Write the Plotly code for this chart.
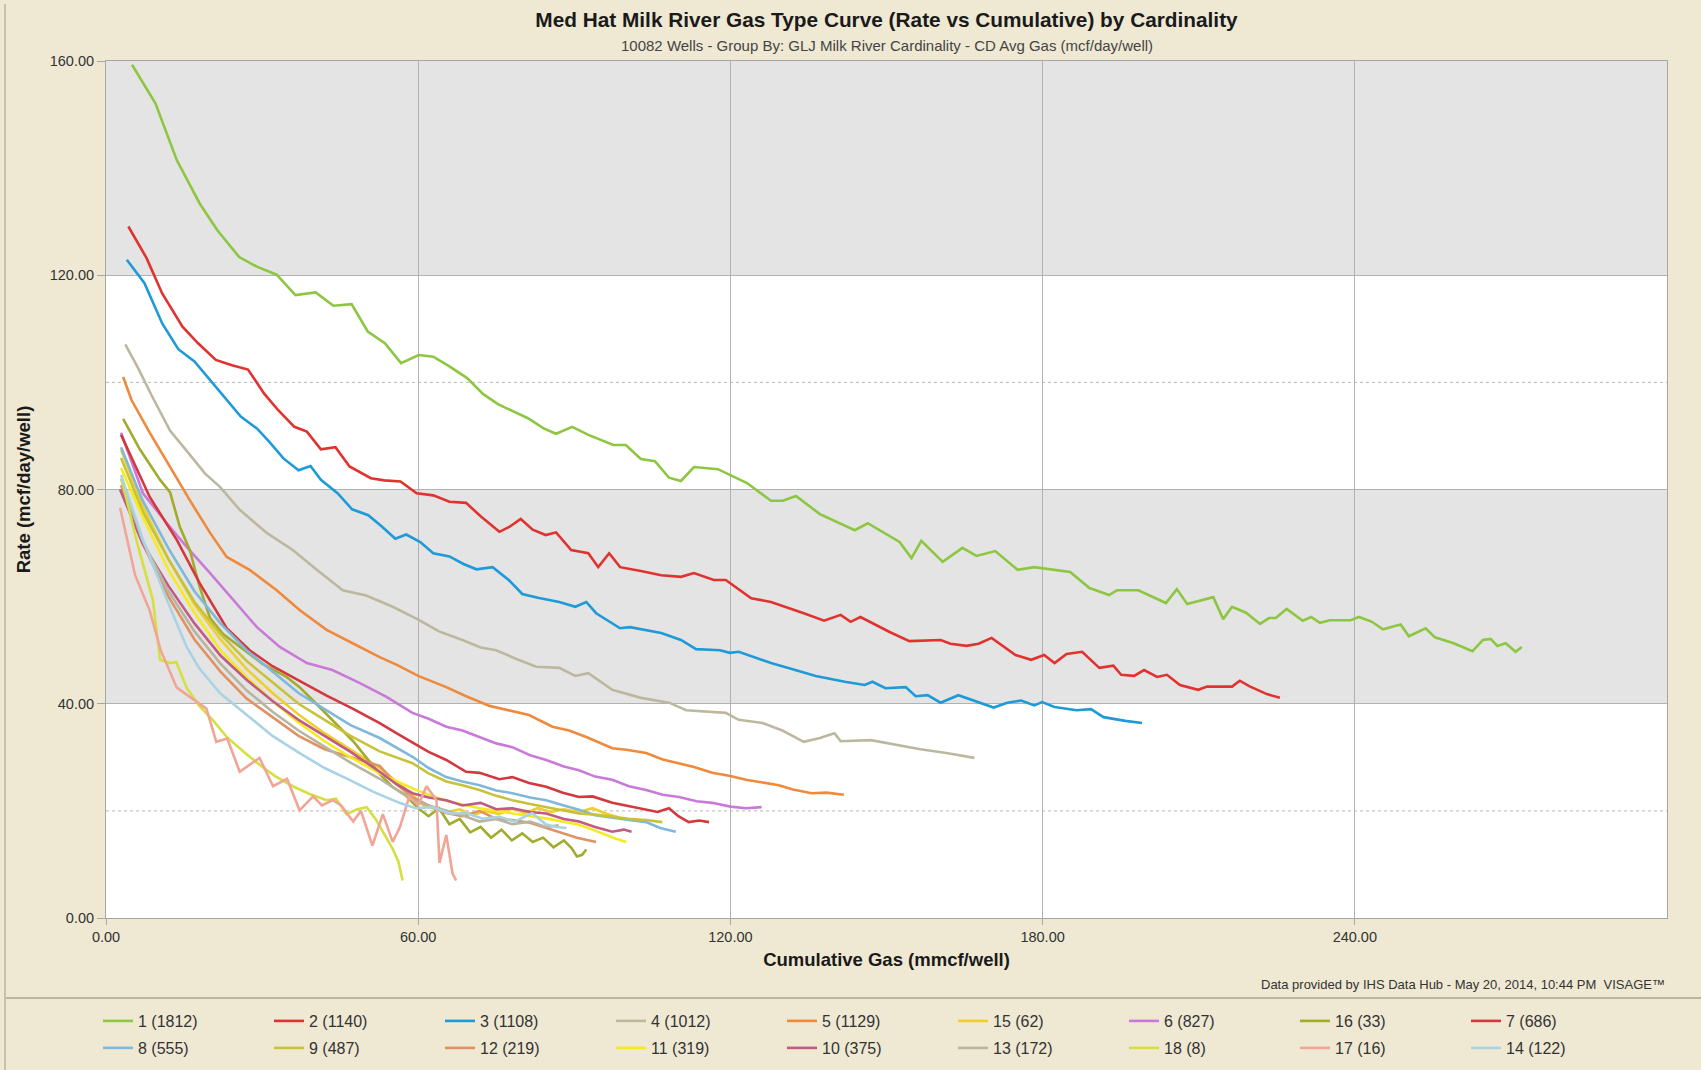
import plotly.graph_objects as go

# ---------------- data (cumulative gas mmcf/well, rate mcf/day/well) ----------------
c1 = [(5.0,159.3),(9.5,152.1),(13.6,141.5),(18.0,133.4),(21.4,128.4),(25.6,123.4),(29.0,121.6),(32.8,120.1),
      (36.4,116.3),(40.3,116.8),(43.7,114.3),(47.2,114.6),(50.3,109.5),(53.6,107.3),(56.7,103.6),(60.1,105.1),
      (62.9,104.8),(66.0,103.0),(69.4,100.8),(72.5,97.8),(75.4,95.9),(78.3,94.5),(81.1,93.3),(84.1,91.4),
      (86.5,90.4),(89.6,91.7),(92.7,90.2),(97.5,88.3),(99.9,88.3),(102.8,85.7),(105.5,85.3),(108.2,82.2),
      (110.5,81.6),(113.0,84.2),(117.6,83.8),(123.2,81.2),(127.8,77.9),(130.1,77.9),(132.6,78.8),(137.2,75.4),
      (143.9,72.4),(146.4,73.7),(152.5,70.2),(154.8,67.2),(156.7,70.4),(160.8,66.5),(164.6,69.1),(167.3,67.6),
      (170.9,68.5),(175.2,65.0),(178.4,65.5),(185.3,64.6),(189.0,61.6),(192.8,60.3),(194.3,61.2),(198.4,61.2),
      (203.7,58.8),(205.8,61.4),(207.8,58.6),(212.8,59.9),(214.7,55.8),(216.4,58.1),(219.1,57.0),(221.8,54.9),
      (223.5,56.0),(224.8,56.0),(226.9,57.7),(230.0,55.5),(231.6,56.2),(233.3,55.1),(235.2,55.6),(239.2,55.6),
      (240.8,56.2),(243.3,55.3),(245.4,53.9),(248.8,54.8),(250.4,52.6),(253.6,54.1),(255.4,52.4),(259.0,51.3),
      (262.6,49.8),(264.6,51.9),(266.1,52.1),(267.4,50.8),(269.0,51.3),(270.9,49.7),(272.1,50.6)]
c2 = [(4.3,129.1),(7.8,123.2),(10.8,116.6),(14.7,110.4),(17.7,107.3),(21.1,104.2),(24.2,103.2),(27.3,102.4),
      (30.4,97.9),(33.1,94.8),(36.2,91.7),(38.6,90.8),(41.3,87.5),(44.1,87.9),(46.8,84.3),(50.9,82.1),
      (53.5,81.7),(56.6,81.5),(59.7,79.3),(62.9,78.9),(66.0,77.7),(69.2,77.5),(72.0,75.0),(75.6,72.1),
      (77.5,73.0),(79.7,74.5),(82.0,72.5),(84.5,71.5),(86.5,72.0),(89.4,68.7),(92.7,68.1),(94.6,65.5),
      (96.7,68.1),(98.8,65.5),(102.8,64.8),(106.7,64.0),(110.5,63.7),(113.0,64.4),(116.8,63.1),(119.1,63.1),
      (124.0,59.7),(127.8,59.0),(134.1,56.9),(138.0,55.5),(141.2,56.6),(143.1,55.3),(145.0,56.2),(150.6,53.4),
      (154.4,51.7),(160.4,51.9),(162.3,51.2),(165.4,50.8),(167.7,51.2),(170.2,52.3),(174.8,49.1),(177.8,48.2),
      (180.3,49.1),(182.3,47.6),(184.6,49.3),(187.6,49.7),(190.9,46.7),(193.6,47.1),(195.1,45.4),(197.6,45.2),
      (199.5,46.3),(202.0,45.0),(203.9,45.4),(206.4,43.5),(209.9,42.6),(211.6,43.2),(216.4,43.2),(217.9,44.3),
      (219.7,43.3),(223.1,41.8),(225.6,41.1)]
c3 = [(4.0,122.9),(7.4,118.5),(10.8,111.0),(13.9,106.2),(17.0,103.9),(20.8,99.5),(25.9,93.6),(29.0,91.4),
      (31.4,88.9),(34.1,85.8),(37.0,83.6),(39.3,84.4),(41.3,81.8),(44.5,79.3),(47.3,76.3),(50.4,75.2),
      (52.9,73.2),(55.6,70.8),(57.7,71.6),(60.4,70.2),(62.9,68.1),(66.0,67.5),(68.7,66.1),(71.2,65.1),
      (74.3,65.5),(77.4,63.1),(80.0,60.5),(83.0,59.8),(87.1,59.0),(90.2,58.1),(92.3,59.0),(94.2,56.9),
      (98.8,54.1),(100.7,54.3),(106.7,53.2),(110.5,51.9),(113.4,50.2),(118.0,50.0),(119.9,49.5),(121.6,49.7),
      (127.8,47.6),(131.8,46.5),(136.4,45.2),(142.0,44.1),(145.8,43.5),(147.3,44.1),(149.8,42.9),(153.7,43.1),
      (155.6,41.4),(157.9,41.6),(160.4,40.2),(163.8,41.6),(167.7,40.2),(170.6,39.3),(173.2,40.2),(175.9,40.6),
      (178.4,39.7),(179.9,40.3),(182.3,39.4),(186.5,38.8),(189.3,39.0),(191.7,37.5),(195.9,36.8),(199.1,36.4)]
c4 = [(3.7,107.1),(6.2,102.6),(8.8,97.5),(12.3,91.0),(16.1,86.5),(19.0,83.0),(21.9,80.5),(25.7,76.2),
      (30.9,71.9),(35.9,68.7),(40.5,65.0),(45.5,61.2),(50.0,60.2),(55.1,58.1),(60.2,55.6),(64.0,53.5),
      (68.5,51.9),(72.0,50.5),(75.0,50.0),(79.0,48.3),(82.7,46.9),(87.1,46.7),(90.2,45.2),(92.7,45.7),
      (97.3,42.6),(102.8,41.1),(108.2,40.2),(111.5,38.8),(119.1,38.3),(121.6,37.0),(126.2,36.4),(130.0,35.0),
      (134.1,32.9),(137.2,33.6),(140.0,34.5),(141.2,33.0),(147.0,33.2),(152.1,32.3),(156.5,31.5),(161.5,30.8),
      (166.9,29.9)]
c5 = [(3.3,101.0),(4.9,96.7),(8.4,90.6),(12.3,84.2),(16.1,78.0),(20.0,71.9),(23.2,67.4),(27.6,65.0),
      (32.8,61.2),(37.2,57.5),(42.4,53.8),(47.4,51.3),(52.6,48.7),(56.0,47.2),(60.0,45.2),(65.4,43.1),
      (69.0,41.5),(73.7,39.6),(77.0,38.8),(81.3,37.9),(85.8,35.7),(89.0,35.0),(92.3,33.8),(97.3,31.7),
      (100.0,31.4),(103.8,30.8),(107.0,29.6),(110.1,28.9),(113.0,28.2),(116.5,27.1),(120.0,26.5),(123.0,25.8),
      (126.0,25.3),(129.3,24.8),(132.0,24.0),(135.6,23.3),(138.5,23.4),(141.8,23.0)]
c6 = [(2.9,90.6),(7.1,79.3),(11.7,73.7),(15.5,69.3),(20.0,64.4),(24.4,59.4),(29.0,54.3),(33.4,50.6),
      (38.6,47.6),(43.5,46.3),(48.7,43.9),(53.9,41.3),(58.9,38.3),(62.0,37.2),(65.4,35.7),(68.5,35.0),
      (71.8,33.8),(75.0,32.6),(78.1,31.9),(81.5,30.4),(84.6,29.5),(88.0,28.3),(90.9,27.6),(94.0,26.4),
      (97.3,25.8),(100.5,24.6),(103.8,23.9),(107.0,23.0),(110.1,22.6),(113.5,21.8),(116.5,21.5),(120.0,20.8),
      (123.0,20.5),(126.0,20.7)]
c7 = [(2.9,90.2),(8.4,78.6),(13.6,70.6),(18.0,62.5),(23.2,54.1),(27.6,50.0),(32.0,47.0),(37.2,44.3),
      (42.4,41.5),(47.4,39.1),(52.6,36.4),(55.8,34.5),(58.9,32.7),(62.0,31.0),(65.4,29.5),(69.2,27.3),
      (71.8,27.1),(75.6,25.9),(78.1,26.3),(81.3,25.2),(84.6,24.5),(87.8,23.4),(90.9,22.6),(93.5,22.7),
      (97.3,21.5),(100.5,20.9),(103.8,20.2),(106.0,19.8),(108.2,20.5),(110.0,19.0),(112.0,17.9),(114.0,18.2),
      (115.9,17.9)]
c8 = [(2.9,87.9),(7.0,78.0),(12.0,69.0),(17.0,61.0),(22.0,55.0),(27.0,50.0),(32.0,46.0),(37.0,42.0),
      (42.0,39.0),(47.0,36.0),(52.6,33.6),(55.8,31.8),(58.9,30.1),(62.0,28.0),(65.4,26.3),(68.5,25.5),
      (71.8,24.8),(75.0,23.8),(78.1,23.3),(81.5,22.5),(84.6,22.0),(88.0,21.0),(90.9,20.2),(94.0,19.2),
      (97.3,18.7),(100.5,18.3),(103.8,17.9),(106.5,16.8),(109.5,16.1)]
c9 = [(2.9,85.9),(7.0,76.0),(12.0,67.0),(17.0,59.0),(22.0,53.0),(27.0,48.0),(32.0,44.0),(37.0,40.0),
      (42.0,37.0),(47.0,34.0),(52.6,31.1),(55.8,30.0),(58.9,28.9),(62.0,27.0),(65.4,25.5),(68.5,24.8),
      (71.8,23.9),(75.0,22.8),(78.1,22.0),(81.5,21.3),(84.6,20.7),(88.0,20.0),(90.9,19.5),(94.0,19.3),
      (97.3,18.9),(100.5,18.5),(103.8,18.3),(106.9,17.9)]
c10 = [(2.7,80.0),(7.0,70.0),(12.0,62.0),(17.0,55.0),(22.0,49.0),(27.0,44.5),(32.0,40.5),(37.0,37.0),
       (42.0,34.0),(47.0,31.0),(52.6,27.3),(55.8,25.0),(58.9,23.3),(62.0,22.5),(65.4,22.0),(68.5,21.0),
       (72.0,21.5),(75.0,20.3),(78.1,20.5),(81.5,19.8),(84.6,19.5),(88.0,18.5),(90.9,18.0),(94.0,17.0),
       (97.3,16.1),(99.5,16.5),(101.0,16.1)]
c11 = [(2.9,84.0),(7.0,75.0),(12.0,65.0),(17.0,57.0),(22.0,50.0),(27.0,45.0),(32.0,40.5),(37.0,36.5),
       (42.0,33.0),(47.0,30.0),(52.6,27.0),(55.8,25.5),(58.9,24.2),(62.0,23.0),(65.4,21.9),(68.5,21.2),
       (71.8,20.5),(75.0,20.0),(78.1,19.5),(81.5,19.0),(84.6,18.6),(88.0,18.0),(90.9,17.4),(93.5,16.5),
       (96.0,15.5),(98.0,14.8),(100.0,14.2)]
c12 = [(2.9,80.8),(7.0,70.0),(12.0,60.0),(17.0,52.0),(22.0,46.0),(27.0,41.0),(32.0,37.5),(37.0,34.0),
       (42.0,31.5),(47.0,30.0),(52.6,28.4),(55.8,25.0),(58.9,22.5),(62.0,21.0),(65.4,19.6),(68.5,19.0),
       (71.8,20.0),(75.0,18.5),(78.1,18.3),(81.5,17.8),(84.6,16.8),(87.7,15.9),(90.5,15.0),(94.2,14.2)]
c13 = [(2.9,82.0),(7.0,70.5),(12.0,61.0),(17.0,53.5),(22.0,47.5),(27.0,42.5),(32.0,38.5),(37.0,35.0),
       (42.0,32.0),(47.0,29.0),(52.6,26.0),(55.8,24.0),(58.9,22.0),(62.0,21.0),(65.4,20.0),(68.5,19.2),
       (71.8,18.0),(75.0,18.5),(78.1,17.5),(81.5,18.0),(84.6,17.0),(87.0,17.3)]
c14 = [(2.9,82.7),(7.1,70.6),(11.7,59.4),(15.5,50.6),(18.0,46.5),(21.9,42.0),(27.6,37.5),(32.0,34.0),
       (37.2,30.8),(42.0,28.0),(46.8,25.8),(51.5,23.5),(56.4,21.5),(59.5,20.5),(62.7,20.7),(66.0,19.5),
       (69.3,19.6),(72.5,18.5),(75.6,18.9),(78.5,18.0),(81.9,19.6),(84.5,17.5),(86.5,17.0),(88.5,16.8)]
c15 = [(2.9,87.4),(7.0,77.0),(12.0,67.0),(17.0,58.5),(22.0,52.0),(27.0,46.5),(32.0,42.0),(37.0,38.0),
       (42.0,34.5),(47.0,31.5),(52.6,28.0),(55.8,25.5),(58.9,23.0),(61.0,21.0),(63.0,20.5),(65.4,19.8),
       (68.0,20.3),(70.5,19.2),(73.0,20.0),(75.5,19.4),(78.0,20.4),(80.5,19.6),(83.0,20.5),(85.5,19.8),
       (88.0,20.3),(90.9,19.8),(93.5,20.5),(96.0,19.5),(98.5,18.8)]
c16 = [(3.3,93.2),(6.5,87.5),(10.4,81.8),(12.3,79.5),(14.2,73.0),(16.1,68.7),(18.0,61.8),(20.0,56.0),
       (22.5,53.0),(25.7,50.6),(30.0,47.5),(34.7,45.0),(37.2,43.1),(39.7,40.7),(43.5,37.0),(47.5,33.0),
       (50.0,30.0),(52.5,27.0),(55.0,24.5),(57.5,23.0),(60.0,20.5),(62.0,19.0),(64.0,20.5),(66.0,17.5),
       (68.0,18.5),(70.0,16.0),(72.0,17.0),(74.0,15.0),(76.0,16.5),(78.0,14.5),(80.0,15.8),(82.0,14.2),
       (84.0,15.0),(86.0,13.2),(88.0,14.5),(89.5,13.0),(90.5,11.5),(91.5,11.8),(92.3,12.8)]
c17 = [(2.7,76.6),(5.6,64.0),(8.4,57.4),(10.5,50.0),(13.6,43.0),(16.5,41.0),(19.3,39.1),(21.2,32.9),
       (23.3,33.5),(25.7,27.3),(27.5,28.5),(29.5,29.9),(32.1,24.6),(34.8,26.0),(37.2,20.1),(39.8,22.7),
       (41.5,21.0),(43.6,22.0),(45.2,21.0),(47.5,18.0),(49.0,20.0),(51.2,13.5),(53.2,19.4),(55.1,14.2),
       (56.5,17.0),(58.3,22.7),(60.0,21.0),(61.6,24.6),(63.5,22.0),(64.1,10.3),(65.4,15.5),(66.6,8.3),
       (67.3,7.0)]
c18 = [(3.0,82.0),(6.0,70.0),(9.0,59.4),(10.4,48.2),(12.3,47.6),(13.5,47.8),(15.5,43.0),(18.0,39.5),
       (20.5,37.0),(23.2,33.8),(26.5,31.0),(29.5,28.6),(32.5,26.5),(35.9,24.6),(39.0,23.2),(42.4,22.0),
       (44.2,22.3),(46.2,19.4),(48.3,20.3),(50.1,20.7),(51.8,18.5),(53.2,16.1),(55.1,12.9),(56.2,10.5),
       (57.0,7.0)]

curve_ids   = ["1", "2", "3", "4", "5", "15", "6", "16", "7",
               "8", "9", "12", "11", "10", "13", "18", "17", "14"]
well_counts = [1812, 1140, 1108, 1012, 1129, 62, 827, 33, 686,
               555, 487, 219, 319, 375, 172, 8, 16, 122]
curve_data = {"1": c1, "2": c2, "3": c3, "4": c4, "5": c5, "6": c6, "7": c7, "8": c8, "9": c9,
              "10": c10, "11": c11, "12": c12, "13": c13, "14": c14, "15": c15, "16": c16,
              "17": c17, "18": c18}
curve_colors = {"1": "#8dc641", "2": "#e0332f", "3": "#1e9ad8", "4": "#bcb8a0", "5": "#ef8a3d",
                "15": "#f0cf2a", "6": "#c97ad9", "16": "#a2ab2c", "7": "#d4383f", "8": "#7fb8da",
                "9": "#c8c23a", "12": "#df9364", "11": "#f6ea1e", "10": "#c15a84", "13": "#b9b4a0",
                "18": "#d5df40", "17": "#f0a596", "14": "#a9d3e3"}

x_ticks = [0, 60, 120, 180, 240]
y_ticks = [0, 40, 80, 120, 160]

# ---------------- figure ----------------
W, H = 1701, 1070
ML, MR, MT, MB = 106, 34, 61, 152
PW, PH = W - ML - MR, H - MT - MB


def px_to_paper_x(px):
    return (px - ML) / PW


def px_to_paper_y(py):
    return (H - MB - py) / PH


fig = go.Figure()
for i, (cid, n) in enumerate(zip(curve_ids, well_counts)):
    pts = curve_data[cid]
    fig.add_trace(go.Scatter(
        x=[p[0] for p in pts], y=[p[1] for p in pts],
        mode="lines", name=f"{cid} ({n})",
        line=dict(color=curve_colors[cid], width=2.6),
        legend="legend" if i < 9 else "legend2",
    ))

FONT = "Liberation Sans, Arial, sans-serif"
band_color = "#e4e4e4"
grid_color = "#b2b2b2"

shapes = [
    dict(type="rect", xref="paper", yref="y", x0=0, x1=1, y0=120, y1=160,
         fillcolor=band_color, line=dict(width=0), layer="below"),
    dict(type="rect", xref="paper", yref="y", x0=0, x1=1, y0=40, y1=80,
         fillcolor=band_color, line=dict(width=0), layer="below"),
    dict(type="line", xref="paper", yref="y", x0=0, x1=1, y0=20, y1=20,
         line=dict(color="#b8b8b8", width=1, dash="dot"), layer="below"),
    dict(type="line", xref="paper", yref="y", x0=0, x1=1, y0=100, y1=100,
         line=dict(color="#b8b8b8", width=1, dash="dot"), layer="below"),
    # legend separator and frame line
    dict(type="line", xref="paper", yref="paper",
         x0=px_to_paper_x(5), x1=px_to_paper_x(W), y0=px_to_paper_y(998), y1=px_to_paper_y(998),
         line=dict(color="#bdb59e", width=2)),
    dict(type="line", xref="paper", yref="paper",
         x0=px_to_paper_x(5), x1=px_to_paper_x(5), y0=px_to_paper_y(4), y1=px_to_paper_y(H),
         line=dict(color="#c9c1a9", width=2)),
]

legend_common = dict(
    orientation="h", xanchor="left", yanchor="middle",
    bgcolor="rgba(0,0,0,0)", borderwidth=0,
    font=dict(family=FONT, size=16, color="#333333"),
    entrywidth=126, entrywidthmode="pixels", itemwidth=30,
    traceorder="normal",
)

fig.update_layout(
    width=W, height=H,
    margin=dict(l=ML, r=MR, t=MT, b=MB, autoexpand=False),
    paper_bgcolor="#efe9d3",
    plot_bgcolor="#ffffff",
    font=dict(family=FONT, color="#333333"),
    title=dict(
        text="<b>Med Hat Milk River Gas Type Curve (Rate vs Cumulative) by Cardinality</b>",
        x=0.5, xref="paper", xanchor="center",
        y=1 - 20 / H, yref="container", yanchor="middle",
        font=dict(family=FONT, size=20.8, color="#1a1a1a"),
    ),
    xaxis=dict(
        range=[0, 300], tickvals=x_ticks, tickformat=".2f",
        showgrid=True, gridcolor=grid_color, gridwidth=1, zeroline=False,
        showline=True, mirror=True, linecolor="#a6a6a6", linewidth=1,
        ticks="outside", ticklen=6, tickcolor="#a6a6a6",
        tickfont=dict(family=FONT, size=14.5, color="#333333"),
        title=dict(text="<b>Cumulative Gas (mmcf/well)</b>", standoff=8,
                   font=dict(family=FONT, size=18.5, color="#1a1a1a")),
    ),
    yaxis=dict(
        range=[0, 160], tickvals=y_ticks, tickformat=".2f",
        showgrid=True, gridcolor=grid_color, gridwidth=1, zeroline=False,
        showline=True, mirror=True, linecolor="#a6a6a6", linewidth=1,
        ticks="outside", ticklen=8, tickcolor="#a6a6a6",
        tickfont=dict(family=FONT, size=14.5, color="#333333"),
        title=dict(text="<b>Rate (mcf/day/well)</b>", standoff=14,
                   font=dict(family=FONT, size=18.5, color="#1a1a1a")),
    ),
    legend=dict(legend_common, x=px_to_paper_x(98), y=px_to_paper_y(1021)),
    legend2=dict(legend_common, x=px_to_paper_x(98), y=px_to_paper_y(1048)),
    shapes=shapes,
    annotations=[
        dict(text="10082 Wells - Group By: GLJ Milk River Cardinality - CD Avg Gas (mcf/day/well)",
             xref="paper", yref="paper", x=0.5, y=px_to_paper_y(45),
             xanchor="center", yanchor="middle", showarrow=False,
             font=dict(family=FONT, size=15, color="#444444")),
        dict(text="Data provided by IHS Data Hub - May 20, 2014, 10:44 PM  VISAGE\u2122",
             xref="paper", yref="paper", x=1.0, y=px_to_paper_y(985),
             xanchor="right", yanchor="middle", showarrow=False,
             font=dict(family=FONT, size=13, color="#333333")),
    ],
)

fig.write_html("out.html")
